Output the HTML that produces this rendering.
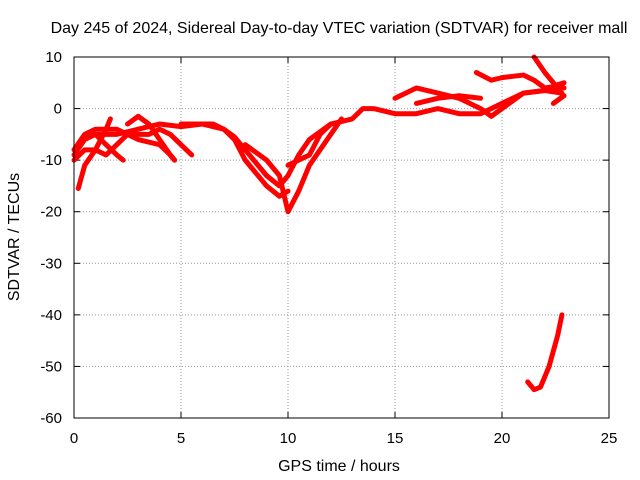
<!DOCTYPE html>
<html><head><meta charset="utf-8"><style>
html,body{margin:0;padding:0;background:#fff;}
svg{display:block;font-family:"Liberation Sans",sans-serif;}
</style></head><body>
<svg id="chart" width="640" height="480">
<rect x="0" y="0" width="640" height="480" fill="#fff"/>
<text x="339" y="33" font-size="16" text-anchor="middle">Day 245 of 2024, Sidereal Day-to-day VTEC variation (SDTVAR) for receiver mall</text>
<text x="339" y="471" font-size="16" text-anchor="middle">GPS time / hours</text>
<text x="19" y="237" font-size="16" text-anchor="middle" transform="rotate(-90 19 237)">SDTVAR / TECUs</text>
<g id="grid"></g>
<g id="series"></g>
<rect x="74" y="57" width="535" height="361" fill="none" stroke="#000" stroke-width="1"/>
</svg>
<script>
const xTicks=[0,5,10,15,20,25];
const yTicks=[10,0,-10,-20,-30,-40,-50,-60];
const s1=[[0,-9],[0.5,-6],[1,-5],[2,-5],[3,-4],[4,-3],[5,-3.5],[6,-3],[6.5,-3],[7,-4],[7.5,-5.5],[8,-8],[8.5,-10.5],[9,-13],[9.6,-15],[10,-13],[10.5,-9],[11,-6],[11.5,-4.5],[12,-3],[13,-2],[13.5,0],[14,0],[15,-1],[16,-1],[17,0],[18,-1],[19,-1],[20,1],[21,3],[22,3.5],[22.8,3]];
const s2=[[0,-8],[0.5,-5],[1,-4],[2,-4],[3,-6],[4,-7],[4.5,-9],[4.7,-10]];
const s3=[[0.2,-15.5],[0.5,-11],[1,-8],[1.5,-4],[1.7,-2]];
const s4=[[2.5,-3],[3,-1.5],[3.5,-3],[4,-6],[4.5,-9],[4.7,-10]];
const s5=[[5,-3],[6,-3],[7,-4],[7.5,-6],[8,-10],[8.5,-12.5],[9,-15],[9.6,-17],[10,-16]];
const s6=[[8,-7],[8.5,-8.5],[9,-10],[9.6,-13],[10,-20],[10.5,-16],[11,-11],[11.5,-8],[12,-5],[12.5,-2]];
const s7=[[10,-11],[11,-9],[11.5,-5],[12,-3]];
const s8=[[15,2],[16,4],[17,3],[18,2],[19,0],[19.5,-1.5],[20,0],[21,3],[22,3.5],[22.9,4]];
const s9=[[16,1],[17,2],[18,2.5],[19,2]];
const s10=[[18.8,7],[19.5,5.5],[20,6],[21,6.5],[21.5,5.5],[22,4],[22.8,4.5]];
const s11=[[21.5,10],[22,7],[22.5,4.5],[22.9,5]];
const s12=[[22.4,1],[22.9,2.5]];
const s13=[[21.2,-53],[21.5,-54.5],[21.8,-54],[22.2,-50],[22.6,-44],[22.8,-40]];
const s14=[[0,-10],[0.5,-8],[1,-8],[1.5,-9],[2,-7],[2.5,-5],[3.5,-5],[4,-4],[4.5,-5],[5,-7],[5.5,-9]];
const s15=[[1,-5],[1.5,-7],[2,-9],[2.3,-10]];
const allSeries=[s1,s2,s3,s4,s5,s6,s7,s8,s9,s10,s11,s12,s13,s14,s15];
const NS="http://www.w3.org/2000/svg";
const X=v=>74+v*(535/25), Y=v=>57+(10-v)*(361/70);
const grid=document.getElementById('grid'), ser=document.getElementById('series'), svg=document.getElementById('chart');
function mk(t,a,p){const e=document.createElementNS(NS,t);for(const k in a)e.setAttribute(k,a[k]);p.appendChild(e);return e;}
xTicks.forEach(t=>{
 const x=X(t);
 if(t>0&&t<25){const l=mk('line',{x1:x,x2:x,y1:57,y2:418,stroke:'#999','stroke-dasharray':'1,2'},grid);
 
 }
 mk('line',{x1:x,x2:x,y1:418,y2:412,stroke:'#000'},grid);
 mk('line',{x1:x,x2:x,y1:57,y2:63,stroke:'#000'},grid);
 const tx=mk('text',{x:x,y:443,'font-size':15,'text-anchor':'middle'},svg);
 tx.textContent=t;
 
 
});
yTicks.forEach(t=>{
 const y=Y(t);
 if(t<10&&t>-60){const l=mk('line',{x1:74,x2:609,y1:y,y2:y,stroke:'#999','stroke-dasharray':'1,2'},grid);
 
 }
 mk('line',{x1:74,x2:80,y1:y,y2:y,stroke:'#000'},grid);
 mk('line',{x1:609,x2:603,y1:y,y2:y,stroke:'#000'},grid);
 const tx=mk('text',{x:62,y:y+5,'font-size':15,'text-anchor':'end'},svg);
 tx.textContent=t;
 
 
});
allSeries.forEach((s,i)=>{
 const p=mk('polyline',{points:s.map(d=>X(d[0])+','+Y(d[1])).join(' '),fill:'none',stroke:'#f00','stroke-width':5,'stroke-linejoin':'round','stroke-linecap':'round'},ser);
 
 
});
</script>
</body></html>
